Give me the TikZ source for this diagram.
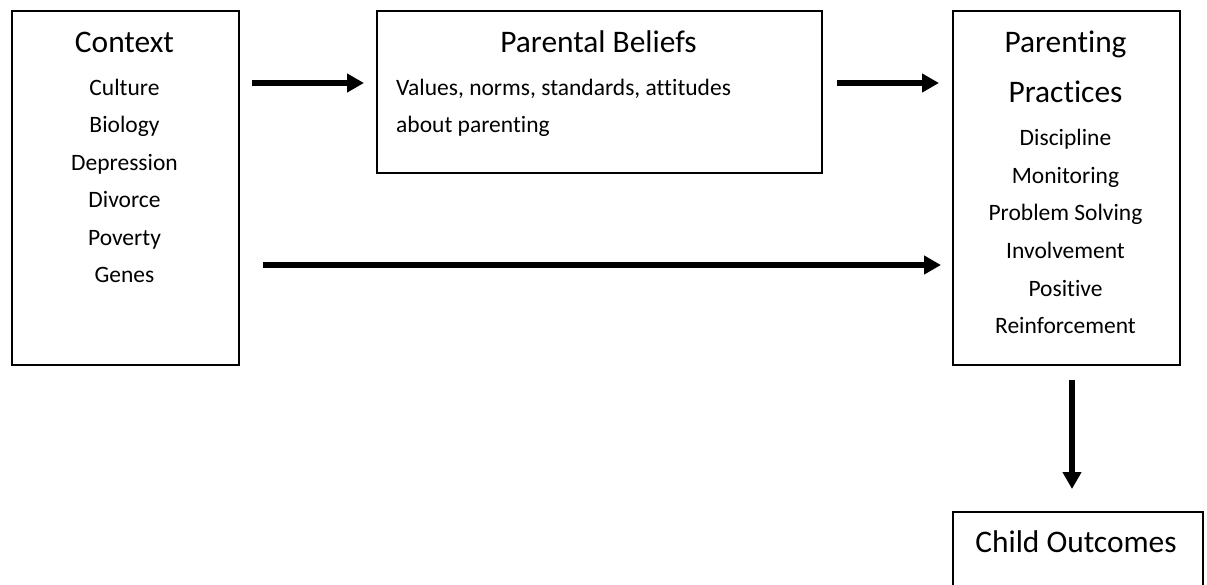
\documentclass[tikz,border=0pt]{standalone}
\usepackage{fontspec}
\setmainfont{Carlito}[Ligatures={NoCommon,NoContextual,NoRequired},Contextuals=NoAlternate]
\usetikzlibrary{arrows.meta}
\begin{document}
\begin{tikzpicture}[x=1pt,y=-1pt,
  box/.style={draw=black,line width=1.6pt,inner sep=0pt,anchor=north west},
  head/.style={anchor=base,inner sep=0pt,font=\fontsize{31.4}{50}\selectfont},
  item/.style={anchor=base,inner sep=0pt,font=\fontsize{23.5}{37.5}\selectfont},
  flow/.style={line width=6pt,-{Triangle[length=17pt,width=18pt]}}]
\useasboundingbox (0,0) rectangle (1207,584);
\clip (0,0) rectangle (1207,584);
% boxes
\node[box,minimum width=227pt,minimum height=354pt] (ctx) at (11,10) {};
\node[box,minimum width=445pt,minimum height=162pt] (bel) at (376,10) {};
\node[box,minimum width=227pt,minimum height=354pt] (prac) at (952,10) {};
\node[box,minimum width=250pt,minimum height=120pt] (out) at (952,511) {};
% headings
\node[head] (ctxT) at (124.5,52) {Context};
\node[head] (belT) at (598.5,52) {Parental Beliefs};
\node[head] (pracT1) at (1065.5,52) {Parenting};
\node[head] (pracT2) at (1065.5,102) {Practices};
\node[head] (outT) at (1076,552) {Child Outcomes};
% context factors
\foreach \t [count=\i] in {Culture,Biology,Depression,Divorce,Poverty,Genes}
  \node[item] (ctx\i) at (124.5,{57.5+37.5*\i}) {\t};
% beliefs
\node[item,anchor=base west] (bel1) at (396,95) {Values, norms, standards, attitudes};
\node[item,anchor=base west] (bel2) at (396,132.5) {about parenting};
% practices
\foreach \t [count=\i] in {Discipline,Monitoring,Problem Solving,Involvement,Positive,Reinforcement}
  \node[item] (prac\i) at (1065.5,{108+37.6*\i}) {\t};
% arrow end points
\coordinate (a1s) at (252,83);  \coordinate (a1e) at (364,83);
\coordinate (a2s) at (837,83);  \coordinate (a2e) at (939,83);
\coordinate (a3s) at (263,265); \coordinate (a3e) at (941,265);
\coordinate (a4s) at (1072,380); \coordinate (a4e) at (1072,489);
\draw[flow] (a1s) -- (a1e);
\draw[flow] (a2s) -- (a2e);
\draw[flow] (a3s) -- (a3e);
\draw[flow] (a4s) -- (a4e);
\end{tikzpicture}
\end{document}
